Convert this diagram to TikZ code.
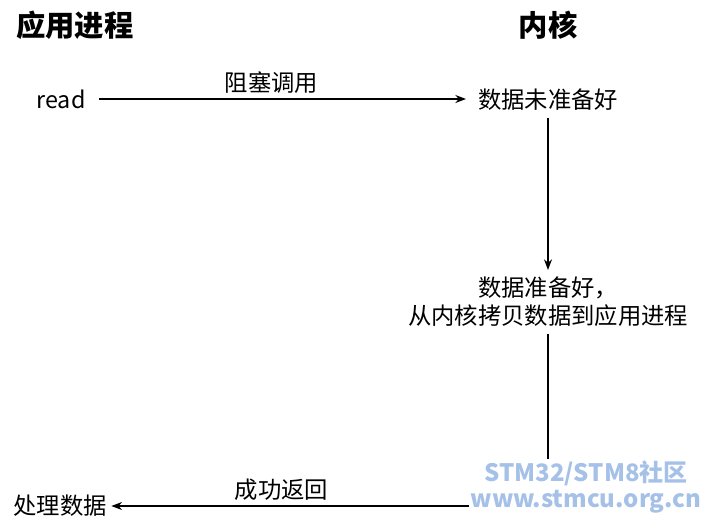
\documentclass[tikz,border=0pt]{standalone}
\usepackage{fontspec}
\setmainfont{Noto Sans CJK SC}
\usetikzlibrary{arrows.meta}
\begin{document}
\begin{tikzpicture}[x=0.75pt,y=-0.75pt,
    title/.style={font=\fontsize{22}{25}\selectfont\bfseries},
    txt/.style={font=\fontsize{17.5}{21}\selectfont, align=center},
    link/.style={line width=1pt},
    flow/.style={link, -{Stealth[length=8pt,width=6pt]}}]
    \useasboundingbox (0,0) rectangle (707,522);
    % Titles
    \node[title] (app) at (75,25) {应用进程};
    \node[title] (kern) at (548,25) {内核};
    % Steps
    \node[txt] (read) at (61,99) {read};
    \node[txt] (notready) at (548,100) {数据未准备好};
    \node[txt] (copy) at (548,302) {数据准备好，\\从内核拷贝数据到应用进程};
    \node[txt] (done) at (60,506) {处理数据};
    \coordinate (turn) at (548,506);
    % Connectors
    \draw[flow] (99,99) -- node[txt, above=0pt, pos=0.47] {阻塞调用} (466,99);
    \draw[flow] (notready.south) ++(0,2) -- (548,270);
    \draw[link] (copy.south) ++(0,2) -- (turn);
    \draw[flow] (turn) -- node[txt, above=0pt, pos=0.61] {成功返回} (done.east);
    % Watermark
    \node[fill=white, inner sep=1pt, text=cyan!55!blue!35, align=center,
          font=\fontsize{18}{20}\selectfont\bfseries] (mark) at (586,487)
          {STM32/STM8社区\\www.stmcu.org.cn};
\end{tikzpicture}
\end{document}
